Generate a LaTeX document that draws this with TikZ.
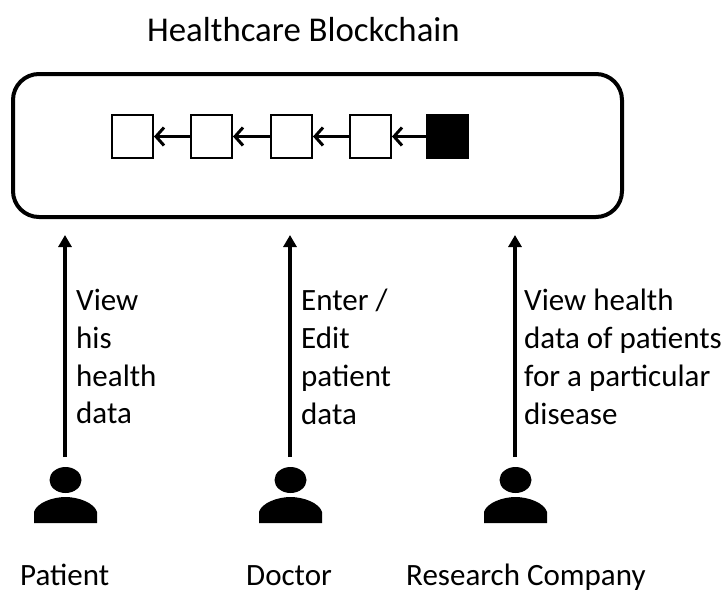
\documentclass[tikz,border=0pt]{standalone}
\usepackage{fontspec}
\setmainfont{Carlito}
\usetikzlibrary{arrows.meta, shapes.geometric}
\tikzset{
	block/.style={draw, minimum width=41pt, minimum height=43pt, inner sep=0pt, line width=2pt, fill=white},
	link/.style={->, >={Straight Barb[length=8pt,width=18pt,line width=3pt]}, line width=3pt},
	flow/.style={->, >={Triangle[length=12pt,width=13pt]}, line width=3.6pt},
	roleText/.style={align=left, anchor=north west, inner sep=0pt, font=\fontsize{31}{37.8}\selectfont},
	roleName/.style={anchor=base west, inner sep=0pt, font=\fontsize{31}{36}\selectfont},
	pics/person/.style={code={
		\node[ellipse, fill=black, minimum width=32pt, minimum height=26pt, inner sep=0pt] (-head) at (0,0) {};
		\fill (-31.5,43) -- (-31.5,32) .. controls (-29,23) and (-13,17) .. (0,17) .. controls (13,17) and (29,23) .. (31.5,32) -- (31.5,43) -- cycle;
	}}
}
\begin{document}
\begin{tikzpicture}[x=1pt, y=-1pt]
	\useasboundingbox (0,0) rectangle (723,592);
	\node[anchor=base west, inner sep=0pt, font=\fontsize{34.8}{40}\selectfont] (title) at (147,41) {Healthcare Blockchain};
	\node[draw, rounded corners=26pt, line width=4pt, minimum width=609pt, minimum height=143pt, inner sep=0pt] (chain) at (317.5,145.5) {};
	\node[block] (blockA) at (132.5,136.5) {};
	\node[block] (blockB) at (211.5,136.5) {};
	\node[block] (blockC) at (291.5,136.5) {};
	\node[block] (blockD) at (370.5,136.5) {};
	\node[block, fill=black] (blockE) at (447.5,136.5) {};
	\draw[link] (blockB) -- (blockA);
	\draw[link] (blockC) -- (blockB);
	\draw[link] (blockD) -- (blockC);
	\draw[link] (blockE) -- (blockD);
	% arrows stop short of the box and of the icons
	\coordinate (patientTop) at (65,235);
	\coordinate (doctorTop) at (290,235);
	\coordinate (companyTop) at (515,235);
	\coordinate (patientBase) at (65,457);
	\coordinate (doctorBase) at (290,457);
	\coordinate (companyBase) at (515,457);
	\draw[flow] (patientBase) -- (patientTop);
	\draw[flow] (doctorBase) -- (doctorTop);
	\draw[flow] (companyBase) -- (companyTop);
	\node[roleText] (patientText) at (76,289) {View\\his\\health\\data};
	\node[roleText] (doctorText) at (301,289) {Enter /\\Edit\\patient\\data};
	\node[roleText] (companyText) at (524,289) {View health\\data of patients\\for a particular\\disease};
	\pic (patient) at (65.5,480) {person};
	\pic (doctor) at (290.5,480) {person};
	\pic (company) at (515.5,480) {person};
	\node[roleName] (patientName) at (20,585) {Patient};
	\node[roleName] (doctorName) at (246,585) {Doctor};
	\node[roleName] (companyName) at (406,585) {Research Company};
\end{tikzpicture}
\end{document}
